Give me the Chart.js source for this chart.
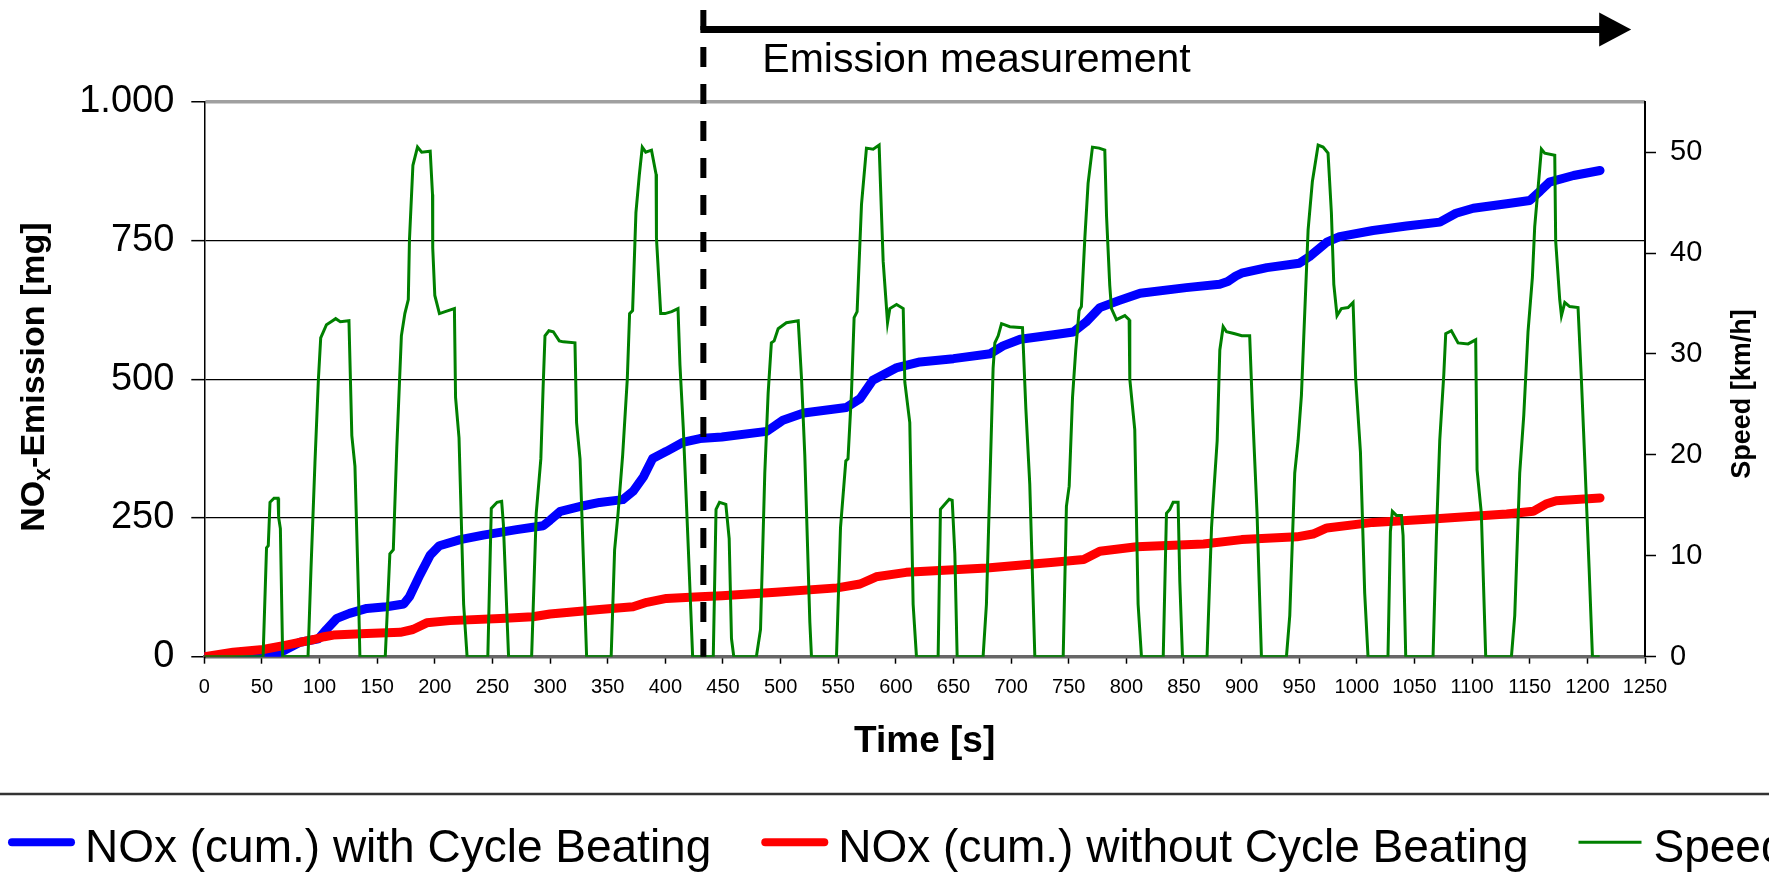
<!DOCTYPE html>
<html>
<head>
<meta charset="utf-8">
<script src="https://cdn.jsdelivr.net/npm/chart.js@4.4.1/dist/chart.umd.min.js"></script>
<style>
  html, body { margin: 0; padding: 0; background: #fff; }
  #wrap { width: 1769px; height: 885px; }
</style>
</head>
<body>
<div id="wrap"><canvas id="nox" width="1769" height="885"></canvas></div>
<script>
const FONT = '"Liberation Sans", Arial, sans-serif';

// cumulative NOx with cycle beating  [time s, mg]
const noxWithCB = [
  [0,0],[54,0],[60,3],[70,12],[83,26],[99,32],[106,49],[115,69],[126,78],[141,87],[158,90],[173,95],
  [178,108],[187,147],[196,183],[204,200],[222,211],[242,219],[271,229],[294,236],[300,246],[309,262],
  [329,272],[343,278],[363,283],[372,298],[381,324],[389,357],[401,370],[415,386],[430,393],[449,396],
  [488,406],[502,426],[520,439],[557,449],[569,465],[580,498],[601,521],[621,531],[650,537],[682,546],
  [693,560],[708,572],[737,580],[754,585],[765,603],[777,629],[794,642],[812,655],[852,665],[881,671],
  [888,676],[895,686],[900,691],[922,701],[950,709],[959,721],[974,747],[985,757],[1014,768],[1043,776],
  [1072,783],[1086,799],[1101,808],[1130,816],[1150,822],[1159,839],[1167,855],[1188,867],[1211,876]
];

// cumulative NOx without cycle beating  [time s, mg]
const noxWithoutCB = [
  [0,0],[25,8],[51,13],[71,21],[95,31],[104,36],[112,39],[141,42],[170,44],[181,49],[193,61],[213,65],
  [257,69],[285,72],[300,77],[343,85],[372,90],[384,98],[401,105],[430,108],[449,110],[496,116],[549,124],
  [569,131],[583,144],[609,152],[679,160],[737,170],[763,175],[777,190],[809,198],[867,203],[900,211],
  [948,216],[962,221],[974,232],[1014,242],[1072,249],[1130,257],[1153,262],[1164,275],[1173,281],[1211,286]
];

// vehicle speed  [time s, km/h]
const speedTrace = [
  [0,0],[51,0],[54,10.8],[55.5,11],[57,15.3],[60.5,15.7],[64,15.7],[64.5,13.8],[66,12.7],[68,0],
  [90,0],[92.6,8.8],[96,19.2],[99,27.5],[101,31.6],[106,32.9],[110,33.2],[114,33.5],[118,33.2],[125.5,33.3],[128,21.9],[130.7,18.9],[134,5.2],[135,0],
  [157,0],[161,10.2],[164,10.6],[167,20.7],[171,31.8],[174,34],[177,35.4],[178,41.3],[181,48.7],[185,50.5],[188.6,50],[196,50.1],[198,45.8],[198.2,40.5],[200,35.8],[204,34],[209,34.2],[217,34.5],[218,25.7],[221,21.7],[225,5.2],[228,0],
  [246,0],[249,14.7],[254,15.3],[258,15.4],[259.5,13.1],[264,0],
  [284,0],[288,14.2],[292,19.6],[294,26.8],[295.6,31.8],[299,32.3],[302.8,32.2],[308,31.3],[311.5,31.2],[321.6,31.1],[323,23.2],[326,19.6],[331.7,0],
  [353,0],[356,10.6],[359,14.2],[363,20],[367,27.5],[369,34],[371.6,34.3],[374.5,44],[377.4,47.7],[380,50.5],[383,50],[388,50.2],[392,47.8],[392.3,41.5],[396,34],[399.7,34],[405.5,34.2],[411,34.5],[412.7,28.9],[415.6,22.6],[420,10.6],[423.7,0],
  [441.6,0],[444,14.6],[447,15.3],[452.5,15.1],[455.4,11.7],[457.4,1.8],[459.4,0],
  [479,0],[482.6,2.7],[486.3,18.2],[489.2,26.1],[492,31.1],[494.4,31.3],[497.9,32.5],[505,33.1],[515.3,33.3],[518.2,27.5],[521,20],[525.4,3.4],[526.8,0],
  [548.5,0],[552,12.8],[556.6,19.4],[558.5,19.6],[561.5,26.1],[563.8,33.6],[566.4,34.2],[570.2,44.8],[574.5,50.4],[580.3,50.3],[585.5,50.7],[587.6,43.7],[589,39.2],[592.8,33.1],[594.8,34.5],[600.6,34.9],[606.4,34.5],[607.8,27.2],[612.1,23.2],[615,5.2],[617.9,0],
  [636.7,0],[638.7,14.6],[642.5,15.1],[646.3,15.6],[648.9,15.5],[651.2,10.2],[653.2,0],
  [675.7,0],[678.6,5.2],[682.1,19.2],[684.4,28.6],[685.9,31.1],[688.8,31.8],[691.7,33],[698.9,32.7],[709.9,32.6],[712.8,24.6],[716.2,17.1],[720.6,0],
  [745.2,0],[748,14.9],[750.4,16.9],[753.3,25.7],[756.1,30.4],[759,34.3],[761,34.7],[764,41.5],[766.8,46.9],[770.6,50.5],[776.4,50.4],[781.3,50.2],[782.8,43.7],[785.6,36.8],[787.1,34.5],[791.4,33.4],[798.7,33.8],[802.4,33.4],[803,27.5],[807.3,22.5],[810.2,5.2],[813.1,0],
  [832,0],[834.8,14.2],[837.7,14.6],[840.6,15.3],[844.9,15.3],[846.4,7.4],[848.7,0],
  [870,0],[873.9,12.8],[875.9,16.4],[878.8,21.4],[881.1,30.4],[884,32.7],[886.9,32.2],[894.1,32],[900.2,31.8],[907,31.8],[909.4,24.6],[913.4,14.2],[917.2,0],
  [938.9,0],[941.8,4.1],[946.1,18.2],[949,21.4],[951.9,25.9],[953.9,31.6],[957.7,42.3],[961.4,47.1],[966.4,50.7],[970.7,50.5],[975,49.9],[977.9,44],[980,36.9],[982.8,33.8],[986.6,34.5],[992.4,34.6],[996.7,35.1],[999,27.5],[1003.1,20.3],[1006.8,6.3],[1009.7,0],
  [1027,0],[1029.1,12.4],[1030.8,14.4],[1034.3,14],[1038.7,14],[1040.1,12],[1042.4,0],
  [1066.1,0],[1069,12],[1071.9,21.4],[1075.4,27.9],[1077.1,32],[1082,32.3],[1087.8,31.1],[1096.5,31],[1103.1,31.4],[1104.3,18.5],[1108,14.2],[1111.8,0],
  [1134.1,0],[1137,4.1],[1141.3,18.2],[1144.8,23.9],[1148.5,32.2],[1152.3,37.6],[1154.3,42.6],[1158.1,47.6],[1160.1,50.3],[1163,49.9],[1171.7,49.7],[1172.5,41.2],[1176,35.4],[1177.5,33.8],[1180.4,35.1],[1184.7,34.7],[1191.9,34.6],[1194.8,27.5],[1197.7,19.6],[1201.5,8.8],[1204.4,0],[1210.7,0]
];

const seriesNames  = ['NOx (cum.) with Cycle Beating', 'NOx (cum.) without Cycle Beating', 'Speed'];
const seriesColors = ['#0000ff', '#ff0000', '#008000'];

const timeTicks       = [0,50,100,150,200,250,300,350,400,450,500,550,600,650,700,750,800,850,900,950,1000,1050,1100,1150,1200,1250];
const noxTickValues   = [0, 250, 500, 750, 1000];
const noxTickLabels   = ['0', '250', '500', '750', '1.000'];
const speedTickValues = [0, 10, 20, 30, 40, 50];

const measureStart = 433;      // s, start of emission measurement
const measureArrowEnd = 1238;  // s, arrow tip
const measureLabel = 'Emission measurement';

const toXY = arr => arr.map(([x, y]) => ({x, y}));

// extra drawing: measurement marker, axis titles, legend
const decor = {
  id: 'decor',
  afterDatasetsDraw(chart) {
    const {ctx, chartArea, scales: {x}} = chart;
    const xs = x.getPixelForValue(measureStart);
    ctx.save();
    ctx.strokeStyle = '#000';
    ctx.lineWidth = 6;
    ctx.setLineDash([20, 17]);
    ctx.beginPath();
    ctx.moveTo(xs, 10);
    ctx.lineTo(xs, chartArea.bottom);
    ctx.stroke();
    ctx.restore();
  },
  afterDraw(chart) {
    const {ctx, chartArea, scales: {x}} = chart;
    const xs = x.getPixelForValue(measureStart);
    const tip = x.getPixelForValue(measureArrowEnd);
    ctx.save();

    // arrow
    const ay = 29.5;
    ctx.strokeStyle = '#000';
    ctx.lineWidth = 7;
    ctx.beginPath();
    ctx.moveTo(xs - 3, ay);
    ctx.lineTo(tip - 30, ay);
    ctx.stroke();
    ctx.fillStyle = '#000';
    ctx.beginPath();
    ctx.moveTo(tip - 32, ay - 17);
    ctx.lineTo(tip, ay);
    ctx.lineTo(tip - 32, ay + 17);
    ctx.closePath();
    ctx.fill();

    ctx.font = '41px ' + FONT;
    ctx.textAlign = 'left';
    ctx.textBaseline = 'alphabetic';
    ctx.fillText(measureLabel, xs + 59, 71.7);

    // x title
    ctx.font = 'bold 37px ' + FONT;
    ctx.textAlign = 'center';
    ctx.fillText('Time [s]', (chartArea.left + chartArea.right) / 2, 751.7);

    // left title with subscript x
    ctx.save();
    ctx.translate(43.5, 377);
    ctx.rotate(-Math.PI / 2);
    ctx.textAlign = 'left';
    const big = 'bold 34px ' + FONT, small = 'bold 23px ' + FONT;
    ctx.font = big;
    const w1 = ctx.measureText('NO').width;
    const w3 = ctx.measureText('-Emission [mg]').width;
    ctx.font = small;
    const w2 = ctx.measureText('x').width;
    let cx = -(w1 + w2 + w3) / 2;
    ctx.font = big;
    ctx.fillText('NO', cx, 0); cx += w1;
    ctx.font = small;
    ctx.fillText('x', cx, 6); cx += w2;
    ctx.font = big;
    ctx.fillText('-Emission [mg]', cx, 0);
    ctx.restore();

    // right title
    ctx.save();
    ctx.translate(1750, 394);
    ctx.rotate(-Math.PI / 2);
    ctx.font = 'bold 27px ' + FONT;
    ctx.textAlign = 'center';
    ctx.fillText('Speed [km/h]', 0, 0);
    ctx.restore();

    // legend
    ctx.strokeStyle = '#333';
    ctx.lineWidth = 2.5;
    ctx.beginPath();
    ctx.moveTo(0, 794);
    ctx.lineTo(chart.width, 794);
    ctx.stroke();

    ctx.font = '46px ' + FONT;
    ctx.textAlign = 'left';
    let lx = 8;
    const ly = 842.3;
    chart.data.datasets.forEach((ds, i) => {
      const thick = i < 2;
      const len = thick ? 67 : 63;
      ctx.strokeStyle = ds.borderColor;
      ctx.lineWidth = thick ? 8 : 3;
      ctx.lineCap = thick ? 'round' : 'butt';
      const inset = thick ? 4 : 0;
      ctx.beginPath();
      ctx.moveTo(lx + inset, ly);
      ctx.lineTo(lx + len - inset, ly);
      ctx.stroke();
      lx += len + (thick ? 10 : 12);
      ctx.fillStyle = '#000';
      ctx.fillText(ds.label, lx, 861.7);
      lx += ctx.measureText(ds.label).width + 50;
    });
    ctx.restore();
  }
};

new Chart(document.getElementById('nox'), {
  type: 'line',
  data: {
    datasets: [
      { label: seriesNames[0], data: toXY(noxWithCB), yAxisID: 'y', borderColor: seriesColors[0],
        borderWidth: 9, borderCapStyle: 'round', borderJoinStyle: 'round', pointRadius: 0, order: 2 },
      { label: seriesNames[1], data: toXY(noxWithoutCB), yAxisID: 'y', borderColor: seriesColors[1],
        borderWidth: 9, borderCapStyle: 'round', borderJoinStyle: 'round', pointRadius: 0, order: 1 },
      { label: seriesNames[2], data: toXY(speedTrace), yAxisID: 'y1', borderColor: seriesColors[2],
        borderWidth: 3, pointRadius: 0, order: 0 }
    ]
  },
  options: {
    responsive: false,
    animation: false,
    devicePixelRatio: 1,
    layout: { padding: { top: 101.7, left: 0, right: 0, bottom: 0 } },
    plugins: { legend: { display: false }, tooltip: { enabled: false } },
    scales: {
      x: {
        type: 'linear', min: 0, max: 1250,
        afterBuildTicks: s => { s.ticks = timeTicks.map(v => ({value: v})); },
        afterFit: s => { s.height = 885 - 656.7; },
        ticks: { autoSkip: false, maxRotation: 0, color: '#000', padding: 12, font: { family: FONT, size: 20 },
                 callback: v => String(v) },
        grid: { drawOnChartArea: false, tickLength: 7, tickColor: '#000', tickWidth: 1.5 },
        border: { color: '#666', width: 3 }
      },
      y: {
        position: 'left', min: 0, max: 1000,
        afterBuildTicks: s => { s.ticks = noxTickValues.map(v => ({value: v})); },
        afterFit: s => { s.width = 204.3; },
        ticks: { color: '#000', padding: 17, font: { family: FONT, size: 38 },
                 callback: v => noxTickLabels[noxTickValues.indexOf(v)] },
        grid: {
          color: c => c.tick && c.tick.value === 1000 ? '#a0a0a0' : (c.tick && c.tick.value === 0 ? '#666' : '#000'),
          lineWidth: c => c.tick && (c.tick.value === 1000 || c.tick.value === 0) ? 3.5 : 1.3,
          tickLength: 13, tickColor: '#000', tickWidth: 1.5
        },
        border: { color: '#000', width: 1.5 }
      },
      y1: {
        position: 'right', min: 0, max: 55,
        afterBuildTicks: s => { s.ticks = speedTickValues.map(v => ({value: v})); },
        afterFit: s => { s.width = 1769 - 1645; },
        ticks: { color: '#000', padding: 14, font: { family: FONT, size: 29 } },
        grid: { drawOnChartArea: false, tickLength: 11, tickColor: '#000', tickWidth: 1.5 },
        border: { color: '#000', width: 2 }
      }
    }
  },
  plugins: [decor]
});
</script>
</body>
</html>
